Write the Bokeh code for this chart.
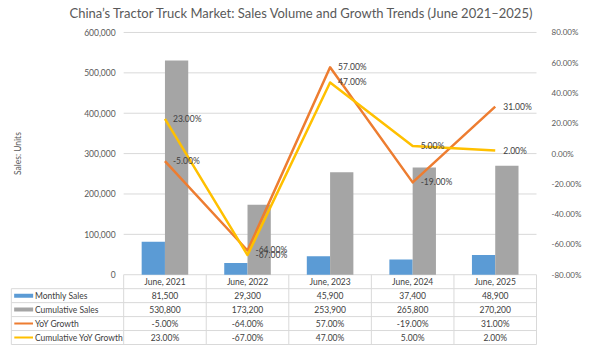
import math
from bokeh.plotting import figure
from bokeh.models import Range1d, LinearAxis, FixedTicker, PrintfTickFormatter
from bokeh.core.properties import value
from bokeh.embed import file_html
from bokeh.resources import INLINE

# ---- data ----
categories = ["June, 2021", "June, 2022", "June, 2023", "June, 2024", "June, 2025"]
monthly_sales = [81500, 29300, 45900, 37400, 48900]
cumulative_sales = [530800, 173200, 253900, 265800, 270200]
yoy_growth = [-5.0, -64.0, 57.0, -19.0, 31.0]
cum_yoy_growth = [23.0, -67.0, 47.0, 5.0, 2.0]
series_names = ["Monthly Sales", "Cumulative Sales", "YoY Growth", "Cumulative YoY Growth"]
sales_ticks = [0, 100000, 200000, 300000, 400000, 500000, 600000]
pct_ticks = [-80, -60, -40, -20, 0, 20, 40, 60, 80]

# ---- style / geometry ----
FONT = "Lato"
BLUE = "#5B9BD5"
GRAY = "#A5A5A5"
ORANGE = "#ED7D31"
YELLOW = "#FFC000"
TXT = "#404040"
AX = "#595959"
GRID = "#d9d9d9"

W, H = 584, 346
FT, FR, FB = 22, 39, 1
N = len(categories)
CHART_LEFT = 125          # canvas px where category 0 starts
CHART_RIGHT = 544
CHART_TOP = 31            # canvas px of the top gridline
CHART_BOTTOM = 274        # canvas px of the zero line
COL = (CHART_RIGHT - CHART_LEFT) / N
CHART_PX = CHART_BOTTOM - CHART_TOP
S_MAX, P_MIN, P_MAX = 600000, -80, 80
S_PER_PX = S_MAX / CHART_PX
P_PER_PX = (P_MAX - P_MIN) / CHART_PX
BELOW_PX = (H - FB) - CHART_BOTTOM
ABOVE_PX = CHART_TOP - FT
ROW = 14 * S_PER_PX       # table row height in sales units
TABLE_X0 = (11 - CHART_LEFT) / COL

x_start = -CHART_LEFT / COL
x_end = (W - FR - CHART_LEFT) / COL

xc = [i + 0.5 for i in range(N)]
BW = 0.282

p = figure(width=W, height=H, output_backend="svg", toolbar_location=None,
           x_range=Range1d(x_start, x_end),
           y_range=Range1d(-BELOW_PX * S_PER_PX, S_MAX + ABOVE_PX * S_PER_PX),
           x_axis_location=None, y_axis_location=None,
           min_border_left=0, min_border_right=FR, min_border_top=FT, min_border_bottom=FB)
p.extra_y_ranges = {"pct": Range1d(P_MIN - BELOW_PX * P_PER_PX, P_MAX + ABOVE_PX * P_PER_PX)}
p.outline_line_color = None
p.grid.visible = False

p.title.text = "China\u2019s Tractor Truck Market: Sales Volume and Growth Trends (June 2021\u20132025)"
p.title.align = "left"
p.title.offset = 69
p.title.text_font = FONT
p.title.text_font_size = "13px"
p.title.text_font_style = "normal"
p.title.text_color = AX
p.title.standoff = 5

# right axis (percent)
ra = LinearAxis(y_range_name="pct", ticker=FixedTicker(ticks=pct_ticks),
                formatter=PrintfTickFormatter(format="%.2f%%"))
ra.axis_line_color = None
ra.major_tick_line_color = None
ra.minor_tick_line_color = None
ra.major_label_standoff = 8
ra.major_label_text_font = FONT
ra.major_label_text_font_size = "8px"
ra.major_label_text_color = AX
p.add_layout(ra, "right")

# gridlines + left tick labels (sales)
p.segment(x0=[0] * len(sales_ticks), x1=[N] * len(sales_ticks), y0=sales_ticks, y1=sales_ticks,
          line_color=GRID, line_width=1)
p.text(x=[0] * len(sales_ticks), y=sales_ticks, text=[f"{v:,}" for v in sales_ticks],
       x_offset=-8, text_align="right", text_baseline="middle",
       text_font=value(FONT), text_font_size="8.5px", text_color=AX)
p.text(x=[(18 - CHART_LEFT) / COL], y=[S_MAX / 2], text=["Sales: Units"], angle=math.pi / 2,
       text_align="center", text_baseline="middle",
       text_font=value(FONT), text_font_size="8.5px", text_color=AX)

# bars
p.vbar(x=[x - BW / 2 for x in xc], top=monthly_sales, width=BW, bottom=0,
       fill_color=BLUE, line_color=None)
p.vbar(x=[x + BW / 2 for x in xc], top=cumulative_sales, width=BW, bottom=0,
       fill_color=GRAY, line_color=None)

# lines
p.line(xc, yoy_growth, y_range_name="pct", line_color=ORANGE, line_width=2.5, line_join="round")
p.line(xc, cum_yoy_growth, y_range_name="pct", line_color=YELLOW, line_width=2.5, line_join="round")

for vals in (yoy_growth, cum_yoy_growth):
    p.text(x=xc, y=vals, text=[f"{v:.2f}%" for v in vals], y_range_name="pct",
           x_offset=8, text_align="left", text_baseline="middle",
           text_font=value(FONT), text_font_size="8.5px", text_color=TXT)

# ---- data table ----
p.segment(x0=[TABLE_X0] * 5, x1=[N] * 5, y0=[-(k + 1) * ROW for k in range(5)],
          y1=[-(k + 1) * ROW for k in range(5)], line_color=GRID, line_width=1)
p.segment(x0=[TABLE_X0] + list(range(N + 1)), x1=[TABLE_X0] + list(range(N + 1)),
          y0=[-ROW] + [0] * (N + 1), y1=[-5 * ROW] * (N + 2), line_color=GRID, line_width=1)

p.text(x=xc, y=[-0.5 * ROW] * N, text=categories, text_align="center", text_baseline="middle",
       text_font=value(FONT), text_font_size="8.5px", text_color=TXT)
rows = [
    [f"{v:,}" for v in monthly_sales],
    [f"{v:,}" for v in cumulative_sales],
    [f"{v:.2f}%" for v in yoy_growth],
    [f"{v:.2f}%" for v in cum_yoy_growth],
]
for r, row in enumerate(rows):
    p.text(x=xc, y=[-(r + 1.5) * ROW] * N, text=row, text_align="center", text_baseline="middle",
           text_font=value(FONT), text_font_size="8.5px", text_color=TXT)

sw0 = TABLE_X0 + 3 / COL
sw1 = TABLE_X0 + 22 / COL
row_y = [-(r + 1.5) * ROW for r in range(4)]
p.rect(x=[(sw0 + sw1) / 2] * 2, y=row_y[:2], width=19, height=4,
       width_units="screen", height_units="screen", fill_color=[BLUE, GRAY], line_color=None)
p.segment(x0=[sw0] * 2, x1=[sw1] * 2, y0=row_y[2:], y1=row_y[2:],
          line_color=[ORANGE, YELLOW], line_width=2)
p.text(x=[TABLE_X0 + 24 / COL] * 4, y=row_y, text=series_names,
       text_align="left", text_baseline="middle",
       text_font=value(FONT), text_font_size="8.5px", text_color=TXT)

open("out.html", "w").write(file_html(p, INLINE))
